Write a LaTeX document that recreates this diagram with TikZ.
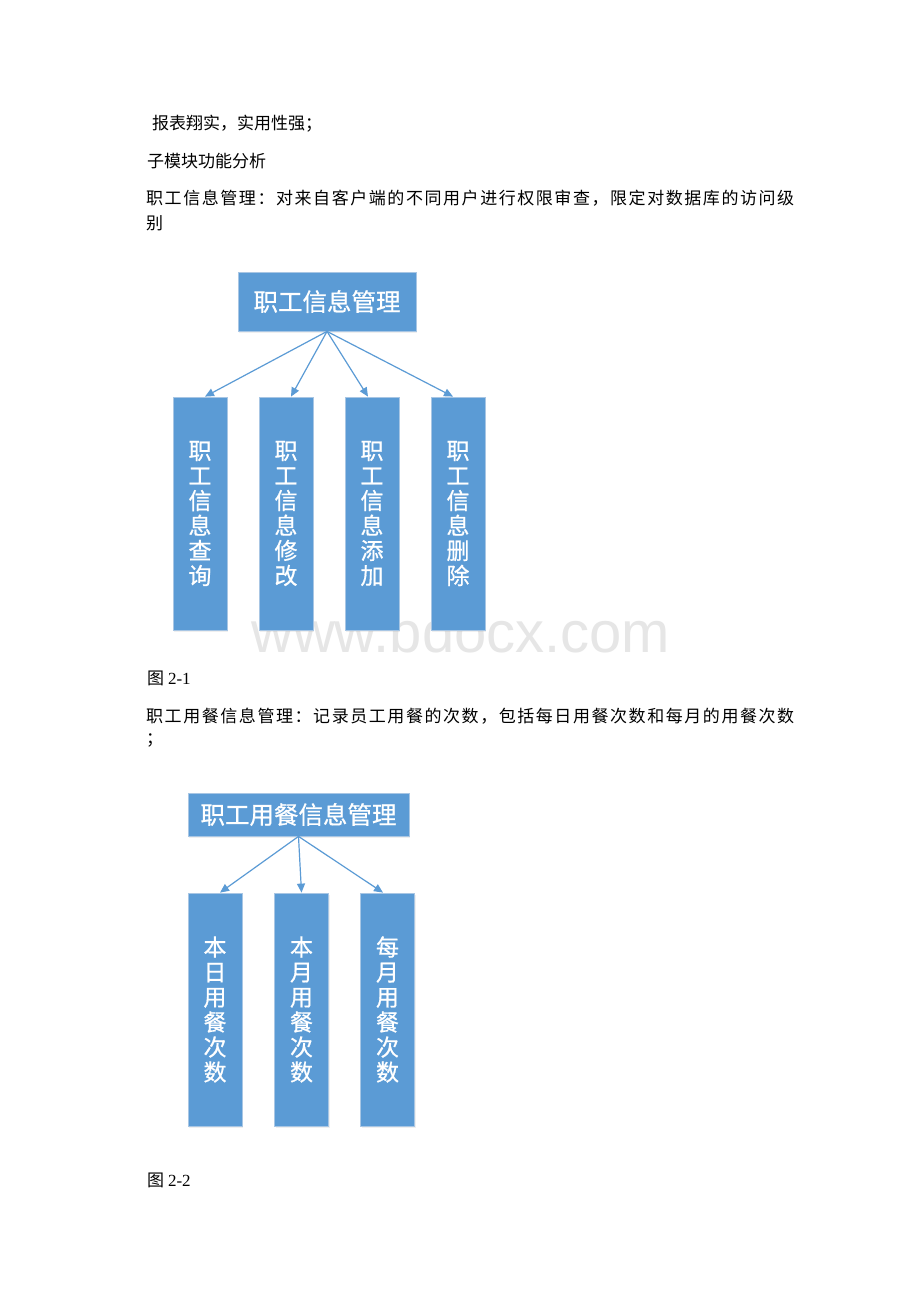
\documentclass[tikz,border=0pt]{standalone}
\usepackage{fontspec}
\setmainfont{Liberation Serif}
\newfontfamily\cjk{Noto Sans CJK SC}
\newfontfamily\cjkbox[FakeBold=0.7]{Noto Sans CJK SC}
\newfontfamily\wmfont{Liberation Sans}
\usetikzlibrary{arrows.meta,calc,shadows}
\definecolor{boxblue}{HTML}{5B9BD5}
\definecolor{boxedge}{HTML}{A8C6E4}
\definecolor{wmgray}{HTML}{E6E6E6}
\def\spreadchars#1#2\relax{#1\spreadaux#2\relax}
\def\spreadaux#1{\ifx#1\relax\else\hskip 0pt plus 1fil\relax #1\expandafter\spreadaux\fi}
\newcommand\justline[2]{\hbox to #1{\spreadchars#2\relax}}
\tikzset{
  body/.style={anchor=west, inner sep=0pt, font=\cjk\fontsize{17}{17}\selectfont},
  blk/.style={fill=boxblue, draw=boxedge, line width=0.8pt, text=white, inner sep=0pt,
    align=center, drop shadow={opacity=0.12, shadow xshift=1pt, shadow yshift=-1.5pt}},
  topblk/.style={blk, font=\cjkbox\fontsize{24.5}{25}\selectfont},
  subblk/.style={blk, minimum width=54pt, minimum height=233pt, font=\cjkbox\fontsize{23}{25}\selectfont},
  arr/.style={draw=boxblue, line width=1.2pt, -{Triangle[length=9pt,width=8pt]}},
}
\begin{document}
\begin{tikzpicture}[x=1pt,y=-1pt]
\useasboundingbox (0,0) rectangle (920,1302);
\fill[white] (0,0) rectangle (920,1302);

% watermark
\node[anchor=base west, inner sep=0pt, text=wmgray, font=\wmfont\fontsize{58}{58}\selectfont] (wm) at (251,652) {www.bdocx.com};

% body text
\node[body] (t1) at (152,124) {报表翔实，实用性强；};
\node[body] (t2) at (147,161) {子模块功能分析};
\node[body] (t3) at (146,198) {\justline{648pt}{职工信息管理：对来自客户端的不同用户进行权限审查，限定对数据库的访问级}};
\node[body] (t4) at (146,223) {别};
\node[body] (cap1) at (147,678) {图 {\rmfamily 2-1}};
\node[body] (t5) at (146,716) {\justline{648pt}{职工用餐信息管理：记录员工用餐的次数，包括每日用餐次数和每月的用餐次数}};
\node[body] (t6) at (146,740) {；};
\node[body] (cap2) at (147,1180) {图 {\rmfamily 2-2}};

% diagram 1
\node[topblk, minimum width=178pt, minimum height=59pt] (p1) at (327,301.5) {职工信息管理};
\node[subblk] (a1) at (200,513.5) {职\\工\\信\\息\\查\\询};
\node[subblk] (a2) at (286,513.5) {职\\工\\信\\息\\修\\改};
\node[subblk] (a3) at (372,513.5) {职\\工\\信\\息\\添\\加};
\node[subblk] (a4) at (458,513.5) {职\\工\\信\\息\\删\\除};
\draw[arr] (p1.south) -- ($(a1.north)+(5,0)$);
\draw[arr] (p1.south) -- ($(a2.north)+(5,0)$);
\draw[arr] (p1.south) -- ($(a3.north)+(-4,0)$);
\draw[arr] (p1.south) -- ($(a4.north)+(-5,0)$);

% diagram 2
\node[topblk, minimum width=221pt, minimum height=43pt] (p2) at (298.5,814.5) {职工用餐信息管理};
\node[subblk] (b1) at (215,1009.5) {本\\日\\用\\餐\\次\\数};
\node[subblk] (b2) at (301.5,1009.5) {本\\月\\用\\餐\\次\\数};
\node[subblk] (b3) at (387.5,1009.5) {每\\月\\用\\餐\\次\\数};
\draw[arr] (p2.south) -- ($(b1.north)+(5,0)$);
\draw[arr] (p2.south) -- (b2.north);
\draw[arr] (p2.south) -- ($(b3.north)+(-4.5,0)$);
\end{tikzpicture}
\end{document}
